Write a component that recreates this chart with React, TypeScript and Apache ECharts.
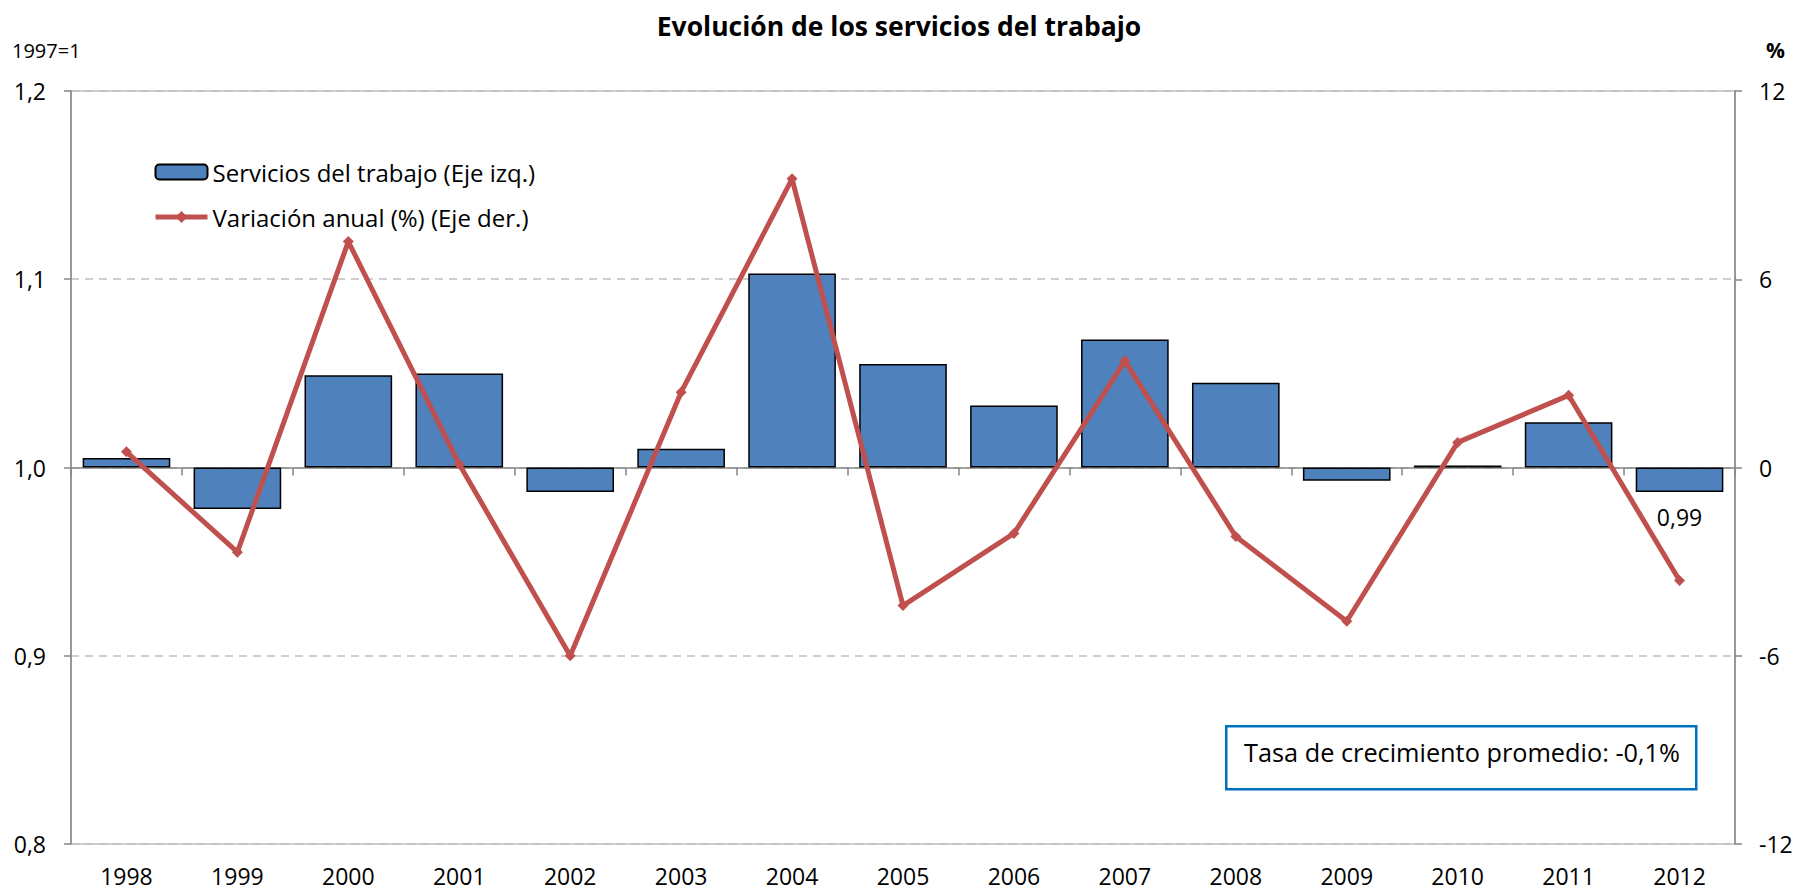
import React, { useEffect, useRef } from "react";
import * as echarts from "echarts";

const years = ["1998", "1999", "2000", "2001", "2002", "2003", "2004", "2005", "2006", "2007", "2008", "2009", "2010", "2011", "2012"];
const servicios = [1.005, 0.978, 1.049, 1.05, 0.987, 1.01, 1.103, 1.055, 1.033, 1.068, 1.045, 0.993, 1.001, 1.024, 0.987];
const variacion = [0.5, -2.7, 7.2, 0.1, -6.0, 2.4, 9.2, -4.4, -2.1, 3.4, -2.2, -4.9, 0.8, 2.3, -3.6];
const BASE = 1; // 1997 = 1, bars grow from this value
const labelledIndex = [14];

const FONT = "'Open Sans', Lato, sans-serif";
const AXIS_GRAY = "#868686";
const GRID_GRAY = "#BFBFBF";
const RED = "#C0504D";

export default function App() {
  const ref = useRef<HTMLDivElement>(null);
  useEffect(() => {
    if (!ref.current) return;
    const chart = echarts.init(ref.current, undefined, { renderer: "svg" });
    const fmtComma = (v: number, d: number) => v.toFixed(d).replace(".", ",");
    const option: any = {
      animation: false,
      textStyle: { fontFamily: FONT, color: "#000" },
      title: {
        text: "Evolución de los servicios del trabajo",
        left: "center",
        top: 7,
        textStyle: { fontFamily: FONT, fontSize: 26.5, fontWeight: "bold", color: "#000" },
      },
      legend: {
        orient: "vertical",
        left: 148,
        top: 155,
        itemWidth: 52,
        itemHeight: 15,
        itemGap: 21,
        textStyle: { fontFamily: FONT, fontSize: 24, color: "#000" },
        data: [
          { name: "Servicios del trabajo (Eje izq.)" },
          { name: "Variación anual (%) (Eje der.)", lineStyle: { width: 5, color: RED } },
        ],
      },
      grid: { left: 71, top: 91, right: 63, bottom: 48, show: true, borderColor: GRID_GRAY, borderWidth: 1.5 },
      xAxis: [
        {
          type: "category",
          data: years,
          axisLine: { onZero: true, onZeroAxisIndex: 0, lineStyle: { color: AXIS_GRAY, width: 1.5 } },
          axisTick: { show: true, length: 8, lineStyle: { color: AXIS_GRAY, width: 1.5 } },
          axisLabel: { show: false },
        },
        {
          type: "category",
          data: years,
          position: "bottom",
          axisLine: { show: false, onZero: false },
          axisTick: { show: false },
          axisLabel: { fontFamily: FONT, fontSize: 23, color: "#000", margin: 20 },
        },
      ],
      yAxis: [
        {
          type: "value",
          min: -0.2,
          max: 0.2,
          interval: 0.1,
          axisLine: { show: true, lineStyle: { color: AXIS_GRAY, width: 1.5 } },
          axisTick: { show: true, length: 7, lineStyle: { color: AXIS_GRAY, width: 1.5 } },
          axisLabel: {
            fontFamily: FONT,
            fontSize: 23,
            color: "#000",
            margin: 25,
            formatter: (v: number) => fmtComma(Math.round((v + BASE) * 10) / 10, 1),
          },
          splitLine: { show: true, lineStyle: { type: [8, 6], color: GRID_GRAY, width: 1.5 } },
        },
        {
          type: "value",
          min: -12,
          max: 12,
          interval: 6,
          position: "right",
          axisLine: { show: true, lineStyle: { color: AXIS_GRAY, width: 1.5 } },
          axisTick: { show: true, length: 7, lineStyle: { color: AXIS_GRAY, width: 1.5 } },
          axisLabel: { fontFamily: FONT, fontSize: 23, color: "#000", margin: 24 },
          splitLine: { show: false },
        },
      ],
      series: [
        {
          name: "Servicios del trabajo (Eje izq.)",
          type: "bar",
          xAxisIndex: 0,
          yAxisIndex: 0,
          barCategoryGap: "21%",
          itemStyle: { color: "#4F81BD", borderColor: "#000", borderWidth: 1.5 },
          data: servicios.map((v, i) => {
            const item: any = { value: v - BASE };
            if (labelledIndex.includes(i)) {
              item.label = {
                show: true,
                position: "bottom",
                distance: 14,
                fontFamily: FONT,
                fontSize: 23,
                color: "#000",
                formatter: () => fmtComma(v, 2),
              };
            }
            return item;
          }),
          z: 2,
        },
        {
          name: "Variación anual (%) (Eje der.)",
          type: "line",
          xAxisIndex: 0,
          yAxisIndex: 1,
          data: variacion,
          symbol: "diamond",
          symbolSize: 11,
          lineStyle: { color: RED, width: 5 },
          itemStyle: { color: RED },
          z: 3,
        },
      ],
      graphic: [
        {
          type: "text",
          left: 12,
          top: 40,
          style: { text: "1997=1", font: `20px ${FONT}`, fill: "#000" },
        },
        {
          type: "text",
          right: 13,
          top: 39,
          style: { text: "%", font: `bold 21px ${FONT}`, fill: "#000" },
        },
        {
          type: "rect",
          left: 1225,
          top: 725,
          shape: { width: 470, height: 63 },
          style: { fill: "#fff", stroke: "#0070C0", lineWidth: 2.5 },
          z: 10,
        },
        {
          type: "text",
          left: 1244,
          top: 739,
          style: { text: "Tasa de crecimiento promedio: -0,1%", font: `25.3px ${FONT}`, fill: "#000" },
          z: 11,
        },
      ],
    };
    chart.setOption(option);
    return () => chart.dispose();
  }, []);
  return (
    <div
      ref={ref}
      style={{ position: "fixed", left: 0, top: 0, width: 1798, height: 892, background: "#fff" }}
    />
  );
}
